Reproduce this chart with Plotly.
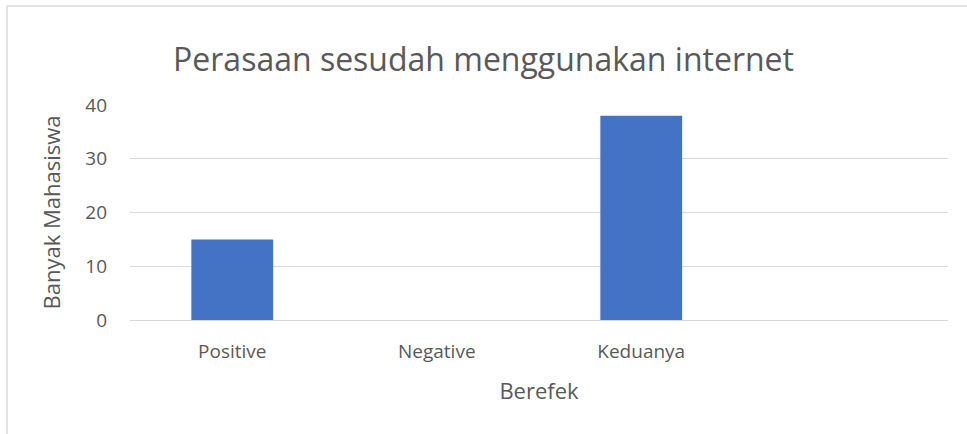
import plotly.graph_objects as go

categories = ["Positive", "Negative", "Keduanya", " "]
values = [15, 0, 38, None]
y_ticks = [0, 10, 20, 30, 40]

W, H = 967, 434
L, R, T, B = 130, 19, 105, 114
pw, ph = W - L - R, H - T - B

def px_x(x):
    return (x - L) / pw

def px_y(y):
    return (H - B - y) / ph

fig = go.Figure(go.Bar(
    x=categories, y=values, width=0.4,
    marker=dict(color="#4472c4", line=dict(color="#4472c4", width=0)),
))

grey = "#595959"
fig.update_layout(
    width=W, height=H,
    margin=dict(l=L, r=R, t=T, b=B),
    paper_bgcolor="white", plot_bgcolor="white",
    font=dict(family="Open Sans", color=grey),
    showlegend=False,
    title=dict(text="Perasaan sesudah menggunakan internet",
               x=0.5, xanchor="center", y=1 - 60 / H, yanchor="middle",
               font=dict(size=32, color=grey, family="Open Sans")),
    xaxis=dict(categoryorder="array", categoryarray=categories,
               showgrid=False, showline=False, zeroline=False,
               tickfont=dict(size=19, color=grey), ticks="",
               ticklabelstandoff=18,
               title=dict(text="Berefek", font=dict(size=22, color=grey), standoff=20)),
    yaxis=dict(range=[0, 40], tickvals=y_ticks, showgrid=True,
               gridcolor="#d9d9d9", gridwidth=1.2, zeroline=True,
               zerolinecolor="#d9d9d9", zerolinewidth=1.2, showline=False,
               tickfont=dict(size=19, color=grey), ticks="",
               ticklabelstandoff=22,
               title=dict(text="Banyak Mahasiswa", font=dict(size=22, color=grey), standoff=18)),
    shapes=[
        dict(type="line", xref="paper", yref="paper",
             x0=px_x(7), x1=px_x(7), y0=px_y(6), y1=px_y(440),
             line=dict(color="#d9d9d9", width=1.5)),
        dict(type="line", xref="paper", yref="paper",
             x0=px_x(7), x1=px_x(970), y0=px_y(6), y1=px_y(6),
             line=dict(color="#d9d9d9", width=1.5)),
    ],
)

fig.write_html("out.html", config={"displayModeBar": False},
               post_script="document.body.style.margin='0';")
